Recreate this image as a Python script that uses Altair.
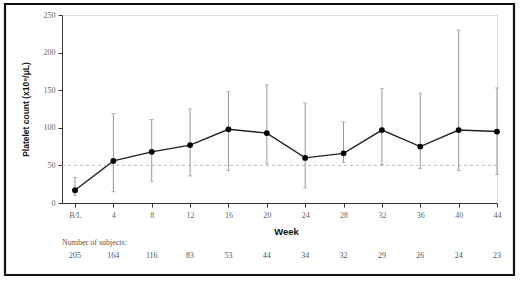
import altair as alt
import pandas as pd

weeks = [0, 4, 8, 12, 16, 20, 24, 28, 32, 36, 40, 44]
week_labels = ["B/L", "4", "8", "12", "16", "20", "24", "28", "32", "36", "40", "44"]
mean_vals = [17, 56, 68, 77, 98, 93, 60, 66, 97, 75, 97, 95]
upper_vals = [34, 119, 111, 125, 148, 157, 133, 108, 152, 146, 230, 153]
lower_vals = [10, 15, 29, 36, 43, 52, 20, 54, 51, 46, 43, 38]
subjects = [205, 164, 116, 83, 53, 44, 34, 32, 29, 26, 24, 23]

df = pd.DataFrame({
    "week": weeks,
    "mean": mean_vals,
    "hi": upper_vals,
    "lo": lower_vals,
    "n": [str(s) for s in subjects],
})

FONT = "Liberation Sans Narrow"
label_expr = "datum.value == 0 ? 'B/L' : datum.label"

xs = alt.Scale(domain=[-1.355, 44], nice=False, zero=False)
ys = alt.Scale(domain=[0, 250], nice=False)

x_axis = alt.Axis(
    values=weeks, labelExpr=label_expr, title="Week", grid=False,
    labelOverlap=False, labelFlush=False,
    tickSize=4, tickColor="#333", domainColor="#333", labelColor="#666",
    labelFontSize=8, labelFont=FONT, labelPadding=4,
    titleFont="Liberation Sans", titleFontSize=9.5, titleFontWeight="bold",
    titleColor="#111", titlePadding=7, titleX=224)
y_axis = alt.Axis(
    values=[0, 50, 100, 150, 200, 250], title="Platelet count (x10⁹/μL)",
    labelOverlap=False, labelFlush=False,
    grid=False, tickSize=4, tickColor="#333", domainColor="#333",
    labelColor="#666", labelFontSize=8, labelFont=FONT, labelPadding=3,
    titleFont="Liberation Sans", titleFontSize=8.5, titleFontWeight="bold",
    titleColor="#111", titlePadding=13)


def X(f):
    return alt.X(f, scale=xs, axis=x_axis)


def Y(f):
    return alt.Y(f, scale=ys, axis=y_axis)


base = alt.Chart(df)

line = base.mark_line(color="#222", strokeWidth=1.4).encode(x=X("week:Q"), y=Y("mean:Q"))

ref = alt.Chart(pd.DataFrame({"v": [50]})).mark_rule(
    color="#bbb", strokeDash=[3, 3], strokeWidth=1
).encode(y=Y("v:Q"))

bars = base.mark_rule(color="#999", strokeWidth=1).encode(
    x=X("week:Q"), y=Y("lo:Q"), y2="hi:Q")
cap_hi = base.mark_tick(color="#999", orient="horizontal", size=4, thickness=1).encode(
    x=X("week:Q"), y=Y("hi:Q"))
cap_lo = base.mark_tick(color="#999", orient="horizontal", size=4, thickness=1).encode(
    x=X("week:Q"), y=Y("lo:Q"))

pts = base.mark_circle(color="#000", size=34, opacity=1).encode(
    x=X("week:Q"), y=Y("mean:Q"))

nums = base.mark_text(font=FONT, fontSize=8, color="#555", baseline="middle").encode(
    x=X("week:Q"), y=alt.value(241), text="n:N")

one = pd.DataFrame({"t": ["Number of subjects:"]})
nlabel = alt.Chart(one).mark_text(font=FONT, fontSize=8, color="#555",
                                  align="left", baseline="middle").encode(
    x=alt.value(0), y=alt.value(228), text="t:N")

frame = alt.Chart(one).mark_rect(fill=None, stroke="#111", strokeWidth=2.2).encode(
    x=alt.value(-57), x2=alt.value(452), y=alt.value(-11), y2=alt.value(260))

chart = alt.layer(line, ref, bars, cap_hi, cap_lo, pts, nums, nlabel, frame).properties(
    width=435, height=188,
    autosize=alt.AutoSizeParams(type="none"),
    padding={"left": 62, "top": 15, "right": 23, "bottom": 79},
).configure_view(stroke=None).configure(background="white")

chart.save("out.html", embed_options={"renderer": "svg", "actions": False})
